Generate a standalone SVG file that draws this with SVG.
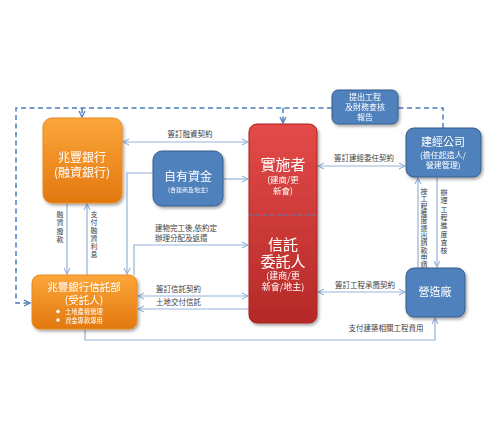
<svg xmlns="http://www.w3.org/2000/svg" width="500" height="435" viewBox="0 0 500 435">
<style>
.lbl{font-family:"Noto Sans CJK TC","Noto Sans CJK SC",sans-serif;font-size:7.5px;fill:#404040}
.vl{font-family:"Noto Sans CJK TC","Noto Sans CJK SC",sans-serif;font-size:7px;fill:#404040;writing-mode:vertical-rl;text-orientation:upright}
.wt{font-family:"Noto Sans CJK TC","Noto Sans CJK SC",sans-serif;fill:#ffffff;text-anchor:middle}
.con{fill:none;stroke:#95b3d7;stroke-width:1.2}
.dash{fill:none;stroke:#4a7ebb;stroke-width:1.5;stroke-dasharray:5,3.5}
.blue{fill:#4f81bd;stroke:#385d8a;stroke-width:1}
</style>
<defs>
<linearGradient id="og" x1="0" y1="0" x2="0" y2="1"><stop offset="0" stop-color="#fca63a"/><stop offset="1" stop-color="#e2780f"/></linearGradient>
<linearGradient id="rg" x1="0" y1="0" x2="0" y2="1"><stop offset="0" stop-color="#e34a48"/><stop offset="1" stop-color="#b52a28"/></linearGradient>
<filter id="sh" x="-20%" y="-20%" width="140%" height="140%"><feDropShadow dx="1.5" dy="2" stdDeviation="1.5" flood-color="#000" flood-opacity="0.35"/></filter>
<marker id="ab" markerWidth="8" markerHeight="8" refX="7" refY="4" orient="auto-start-reverse" markerUnits="userSpaceOnUse"><path d="M1,1 L7,4 L1,7" fill="none" stroke="#95b3d7" stroke-width="1.1"/></marker>
<marker id="ad" markerWidth="8" markerHeight="8" refX="7" refY="4" orient="auto-start-reverse" markerUnits="userSpaceOnUse"><path d="M1,1 L7,4 L1,7" fill="none" stroke="#4a7ebb" stroke-width="1.3"/></marker>
</defs>
<rect width="500" height="435" fill="#ffffff"/>
<g id="connectors">
<path class="dash" d="M443,128 V108 H398"/>
<path class="dash" d="M332,108 H16 V303 H30" marker-end="url(#ad)"/>
<path class="dash" d="M82,108 V117" marker-end="url(#ad)"/>
<path class="dash" d="M283,108 V123" marker-end="url(#ad)"/>
<path class="con" d="M123,142 H248" marker-start="url(#ab)" marker-end="url(#ab)"/>
<path class="con" d="M223,179 H248" marker-end="url(#ab)"/>
<path class="con" d="M153,173 H127 V274" marker-end="url(#ab)"/>
<path class="con" d="M67,204 V274" marker-end="url(#ab)"/>
<path class="con" d="M87,275 V204" marker-end="url(#ab)"/>
<path class="con" d="M134,275 V245 H248" marker-end="url(#ab)"/>
<path class="con" d="M138,296 H248" marker-start="url(#ab)" marker-end="url(#ab)"/>
<path class="con" d="M249,309 H138" marker-end="url(#ab)"/>
<path class="con" d="M85,330 V340 H435 V318" marker-end="url(#ab)"/>
<path class="con" d="M318,166 H405" marker-start="url(#ab)" marker-end="url(#ab)"/>
<path class="con" d="M318,292 H405" marker-start="url(#ab)" marker-end="url(#ab)"/>
<path class="con" d="M418,268 V178" marker-end="url(#ab)"/>
<path class="con" d="M437,178 V267" marker-end="url(#ab)"/>
<text class="lbl" x="190" y="137" text-anchor="middle">簽訂融資契約</text>
<text class="lbl" x="364" y="161" text-anchor="middle">簽訂建經委任契約</text>
<text class="lbl" x="365" y="288" text-anchor="middle">簽訂工程承攬契約</text>
<text class="lbl" x="155" y="231">建物完工後,依約定</text>
<text class="lbl" x="155" y="241">辦理分配及返還</text>
<text class="lbl" x="156" y="292">簽訂信託契約</text>
<text class="lbl" x="156" y="305">土地交付信託</text>
<text class="lbl" x="386" y="331" text-anchor="middle">支付建築相關工程費用</text>
<text class="vl" x="60" y="211" letter-spacing="1.3">融資撥款</text>
<text class="vl" x="94" y="211" letter-spacing="1">支付融資利息</text>
<text class="vl" x="424" y="188" letter-spacing="0.3">按工程進度提出請款申請</text>
<text class="vl" x="444" y="189" letter-spacing="1.3">辦理工程進度查核</text>
</g>
<g id="bank" filter="url(#sh)">
<rect x="43" y="118" width="79" height="85" rx="9" fill="url(#og)" stroke="#e88a20"/>
<text class="wt" x="82" y="162" font-size="12">兆豐銀行</text>
<text class="wt" x="82" y="177" font-size="12">(融資銀行)</text>
</g>
<g id="trust" filter="url(#sh)">
<rect x="32" y="275" width="105" height="54" rx="8" fill="url(#og)" stroke="#e88a20"/>
<text class="wt" x="84" y="291" font-size="10.5">兆豐銀行信託部</text>
<text class="wt" x="84" y="303.5" font-size="10.5">(受託人)</text>
<circle cx="58" cy="311.5" r="1.7" fill="#fff"/>
<circle cx="58" cy="320" r="1.7" fill="#fff"/>
<text class="wt" x="65" y="314" font-size="6.3" style="text-anchor:start">土地產權管理</text>
<text class="wt" x="65" y="322.5" font-size="6.3" style="text-anchor:start">資金專款專用</text>
</g>
<g id="ownfund" filter="url(#sh)">
<rect x="153" y="151" width="70" height="55" rx="9" class="blue"/>
<text class="wt" x="188" y="181" font-size="12">自有資金</text>
<text class="wt" x="188" y="192" font-size="6">(含建商及地主)</text>
</g>
<g id="implementer" filter="url(#sh)">
<rect x="249" y="124" width="68" height="199" rx="8" fill="url(#rg)" stroke="#a82220"/>
<line x1="249" y1="215" x2="317" y2="215" stroke="#4a7ebb" stroke-width="1" stroke-dasharray="4,3"/>
<text class="wt" x="283" y="170" font-size="15">實施者</text>
<text class="wt" x="283" y="183" font-size="8.5">(建商/更</text>
<text class="wt" x="283" y="194" font-size="8.5">新會)</text>
<text class="wt" x="283" y="250" font-size="15">信託</text>
<text class="wt" x="283" y="267" font-size="15">委託人</text>
<text class="wt" x="283" y="279" font-size="9">(建商/更</text>
<text class="wt" x="283" y="290" font-size="9">新會/地主)</text>
</g>
<g id="report" filter="url(#sh)">
<rect x="332" y="90" width="66" height="34" rx="6" class="blue"/>
<text class="wt" x="365" y="100" font-size="8">提出工程</text>
<text class="wt" x="365" y="110" font-size="8">及財務查核</text>
<text class="wt" x="365" y="120" font-size="8">報告</text>
</g>
<g id="pm" filter="url(#sh)">
<rect x="406" y="128" width="75" height="49" rx="8" class="blue"/>
<text class="wt" x="443" y="146" font-size="11">建經公司</text>
<text class="wt" x="443" y="158" font-size="8">(擔任起造人/</text>
<text class="wt" x="443" y="168" font-size="8">營建管理)</text>
</g>
<g id="contractor" filter="url(#sh)">
<rect x="406" y="268" width="59" height="49" rx="8" class="blue"/>
<text class="wt" x="435" y="296" font-size="11">營造廠</text>
</g>
</svg>
